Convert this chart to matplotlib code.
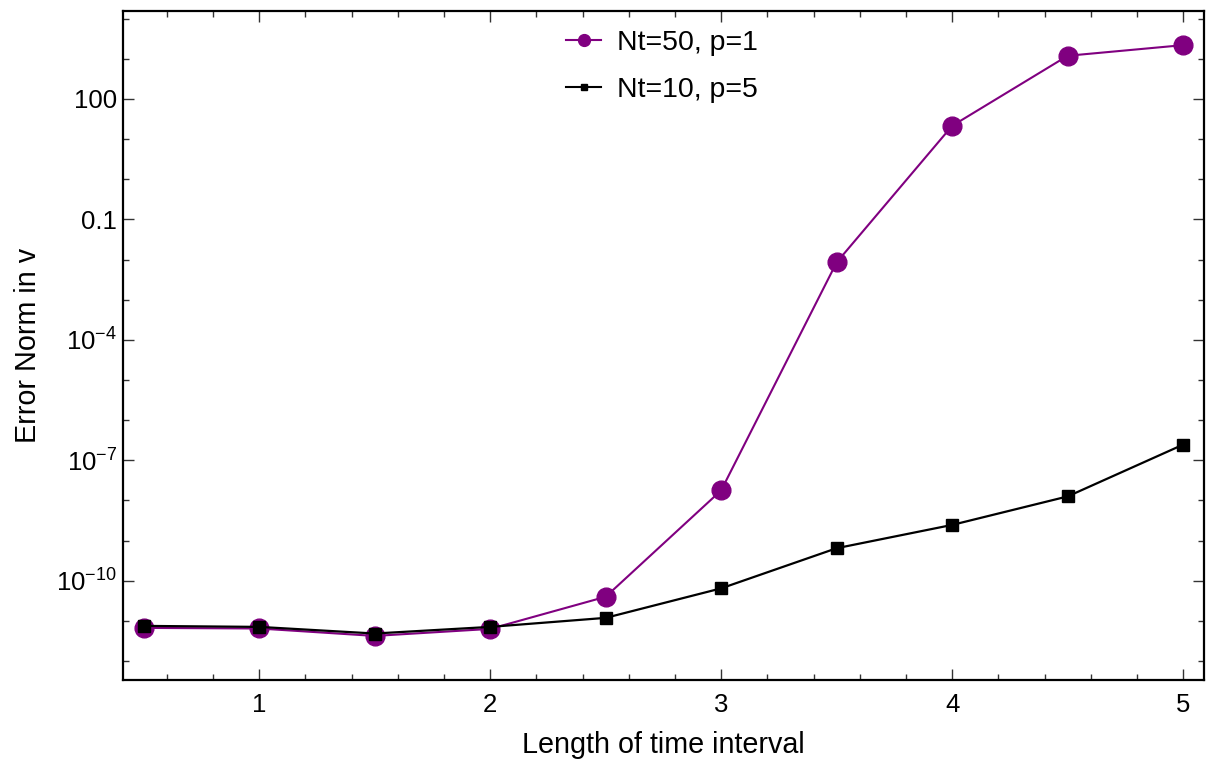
import matplotlib
matplotlib.use("Agg")
import matplotlib.pyplot as plt
from matplotlib.lines import Line2D
from matplotlib.ticker import FixedLocator, NullFormatter
import numpy as np

plt.rcParams['font.family'] = ['Liberation Sans', 'DejaVu Sans']
plt.rcParams['mathtext.fontset'] = 'custom'
plt.rcParams['mathtext.rm'] = 'Liberation Sans'
plt.rcParams['mathtext.it'] = 'Liberation Sans:italic'

# Length of time interval
t_len = [0.5, 1.0, 1.5, 2.0, 2.5, 3.0, 3.5, 4.0, 4.5, 5.0]

# log10 of error norm in v
log_err_nt50_p1 = [-11.175, -11.19, -11.375, -11.2, -10.4, -7.75, -2.07, 1.33, 3.075, 3.34]
log_err_nt10_p5 = [-11.125, -11.15, -11.315, -11.15, -10.925, -10.19, -9.19, -8.61, -7.9, -6.61]

series_labels = ["Nt=50, p=1", "Nt=10, p=5"]

y_tick_vals = [1e-10, 1e-7, 1e-4, 0.1, 100]
y_tick_labels = [r"$10^{-10}$", r"$10^{-7}$", r"$10^{-4}$", "0.1", "100"]
x_tick_vals = [1, 2, 3, 4, 5]

purple = "#800080"

fig = plt.figure(figsize=(12.06, 7.59), dpi=100)
ax = fig.add_axes([0.1017, 0.1037, 0.8966, 0.8818])

err1 = 10.0 ** np.array(log_err_nt50_p1)
err2 = 10.0 ** np.array(log_err_nt10_p5)

ax.plot(t_len, err1, color=purple, lw=1.5, marker='o', ms=13.5, zorder=2)
ax.plot(t_len, err2, color='black', lw=1.6, marker='s', ms=8.5, zorder=3)

ax.set_yscale('log')
ax.set_xlim(0.409, 5.09)
ax.set_ylim(10 ** -12.48, 10 ** 4.19)

ax.yaxis.set_major_locator(FixedLocator(y_tick_vals))
ax.set_yticklabels(y_tick_labels)
ax.yaxis.set_minor_locator(FixedLocator([10.0 ** k for k in range(-12, 5)]))
ax.yaxis.set_minor_formatter(NullFormatter())

ax.xaxis.set_major_locator(FixedLocator(x_tick_vals))
ax.set_xticklabels([str(v) for v in x_tick_vals])
ax.xaxis.set_minor_locator(FixedLocator(np.arange(0.6, 5.01, 0.2)))

ax.tick_params(which='both', direction='in', top=True, right=True,
               labelsize=18.5, width=1.0, color='#333333')
ax.tick_params(which='major', length=8)
ax.tick_params(which='minor', length=4)
ax.tick_params(axis='x', which='major', pad=9)
ax.tick_params(axis='y', which='major', pad=4)
for s in ax.spines.values():
    s.set_linewidth(1.6)

ax.set_xlabel("Length of time interval", fontsize=20.7, labelpad=10)
ax.set_ylabel("Error Norm in v", fontsize=20.7, labelpad=10)

handles = [
    Line2D([], [], color=purple, lw=1.5, marker='o', ms=8.5),
    Line2D([], [], color='black', lw=1.5, marker='s', ms=4.5),
]
ax.legend(handles, series_labels, loc='upper center', bbox_to_anchor=(0.499, 1.0105),
          frameon=False, fontsize=20.5, handlelength=1.23, handletextpad=0.56,
          labelspacing=0.75)

fig.savefig("out.png", dpi=100)
